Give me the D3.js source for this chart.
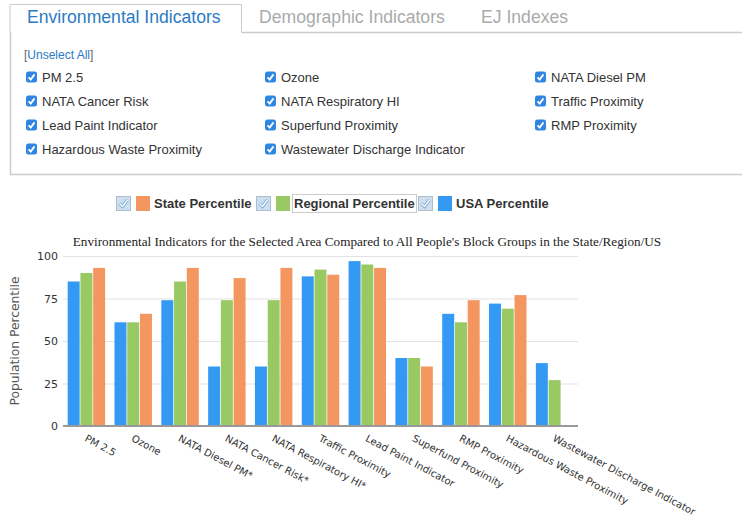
<!DOCTYPE html>
<html>
<head>
<meta charset="utf-8">
<script src="https://cdn.jsdelivr.net/npm/d3@7"></script>
<style>
  body { margin: 0; background: #fff; }
  svg { display: block; }
</style>
</head>
<body>
<svg width="742" height="517"></svg>
<script>
var tabs = ["Environmental Indicators", "Demographic Indicators", "EJ Indexes"];
var checkItems = ["PM 2.5", "Ozone", "NATA Diesel PM",
                  "NATA Cancer Risk", "NATA Respiratory HI", "Traffic Proximity",
                  "Lead Paint Indicator", "Superfund Proximity", "RMP Proximity",
                  "Hazardous Waste Proximity", "Wastewater Discharge Indicator"];
var legendItems = ["State Percentile", "Regional Percentile", "USA Percentile"];

var categories = ["PM 2.5", "Ozone", "NATA Diesel PM*", "NATA Cancer Risk*", "NATA Respiratory HI*",
                  "Traffic Proximity", "Lead Paint Indicator", "Superfund Proximity", "RMP Proximity",
                  "Hazardous Waste Proximity", "Wastewater Discharge Indicator"];
var usaVals = [85, 61, 74, 35, 35, 88, 97, 40, 66, 72, 37];
var regionVals = [90, 61, 85, 74, 74, 92, 95, 40, 61, 69, 27];
var stateVals = [93, 66, 93, 87, 93, 89, 93, 35, 74, 77, null];
var yTicks = [0, 25, 50, 75, 100];

var blue = "#3399f3", green = "#99c963", orange = "#f4965f";

var svg = d3.select("svg"),
    width = +svg.attr("width"),
    height = +svg.attr("height");

// ---- tabs
svg.append("path")
    .attr("d", "M10,32.5 V4.5 H241.5 V32.5")
    .attr("fill", "none")
    .attr("stroke", "#ccc");
var tabX = [27, 259, 481];
svg.selectAll(".tab").data(tabs).enter().append("text")
    .attr("class", "tab")
    .attr("x", function (d, i) { return tabX[i]; })
    .attr("y", 23)
    .attr("font-family", "Liberation Sans, Arial, sans-serif")
    .attr("font-size", 17.6)
    .attr("fill", function (d, i) { return i == 0 ? "#2b7bc4" : "#aaa"; })
    .text(function (d) { return d; });

// panel
svg.append("path")
    .attr("d", "M241.5,32.5 H745 M10.5,32 V174.5 H745")
    .attr("fill", "none")
    .attr("stroke", "#ccc")
    .attr("stroke-width", 1.5);

var unsel = svg.append("text")
    .attr("x", 24).attr("y", 59)
    .attr("font-family", "Liberation Sans, Arial, sans-serif")
    .attr("font-size", 12);
unsel.append("tspan").attr("fill", "#666").text("[");
unsel.append("tspan").attr("fill", "#2b7bc4").text("Unselect All");
unsel.append("tspan").attr("fill", "#666").text("]");

var colX = [26, 265, 535];
var ck = svg.selectAll(".ck").data(checkItems).enter().append("g")
    .attr("class", "ck")
    .attr("transform", function (d, i) {
        return "translate(" + colX[i % 3] + "," + (77 + Math.floor(i / 3) * 24) + ")";
    });
ck.append("rect")
    .attr("x", 0).attr("y", -5.5)
    .attr("width", 11).attr("height", 11)
    .attr("rx", 2.5)
    .attr("fill", "#2f86e0");
ck.append("path")
    .attr("d", "M2.6,0.3 L4.7,2.6 L8.5,-2.6")
    .attr("fill", "none")
    .attr("stroke", "#fff")
    .attr("stroke-width", 1.8);
ck.append("text")
    .attr("x", 16).attr("y", 4.5)
    .attr("font-family", "Liberation Sans, Arial, sans-serif")
    .attr("font-size", 13)
    .attr("fill", "#333")
    .text(function (d) { return d; });

// ---- legend
var legX = [116, 256, 418];
var legColors = [orange, green, blue];
var lg = svg.selectAll(".lg").data(legendItems).enter().append("g")
    .attr("class", "lg")
    .attr("transform", function (d, i) { return "translate(" + legX[i] + ",196)"; });
lg.append("rect")
    .attr("x", 0.5).attr("y", 0.5)
    .attr("width", 14).attr("height", 14)
    .attr("fill", "#cfdeec")
    .attr("stroke", "#a9bfd3");
lg.append("path")
    .attr("d", "M3.5,7.5 L6.5,10.5 L11.5,4")
    .attr("fill", "none")
    .attr("stroke", "#6fa6da")
    .attr("stroke-width", 3);
lg.append("path")
    .attr("d", "M3.5,7.5 L6.5,10.5 L11.5,4")
    .attr("fill", "none")
    .attr("stroke", "#fff")
    .attr("stroke-width", 1.4);
lg.append("rect")
    .attr("x", 20).attr("y", 0)
    .attr("width", 14).attr("height", 15)
    .attr("fill", function (d, i) { return legColors[i]; });
lg.append("text")
    .attr("x", 38).attr("y", 11.5)
    .attr("font-family", "Liberation Sans, Arial, sans-serif")
    .attr("font-size", 13)
    .attr("font-weight", "bold")
    .attr("fill", "#333")
    .text(function (d) { return d; });
lg.filter(function (d, i) { return i == 1; }).append("rect")
    .attr("x", 36.5).attr("y", -1.5)
    .attr("width", 124).attr("height", 18)
    .attr("fill", "none")
    .attr("stroke", "#999")
    .attr("stroke-dasharray", "1,1");

// ---- chart
var margin = { left: 63, right: 164, top: 256, bottom: 91 };

var x0 = d3.scaleBand()
    .domain(categories)
    .range([margin.left, width - margin.right])
    .paddingInner(0.2)
    .paddingOuter(0.1);

var series = ["usa", "region", "state"];
var seriesVals = { usa: usaVals, region: regionVals, state: stateVals };
var seriesColor = { usa: blue, region: green, state: orange };

var x1 = d3.scaleBand()
    .domain(series)
    .range([0, x0.bandwidth()])
    .paddingInner(0.06);

var y = d3.scaleLinear()
    .domain([0, 100])
    .range([height - margin.bottom, margin.top]);

svg.append("text")
    .attr("x", 367).attr("y", 246)
    .attr("text-anchor", "middle")
    .attr("font-family", "Liberation Serif, Times New Roman, serif")
    .attr("font-size", 13.2)
    .attr("fill", "#222")
    .text("Environmental Indicators for the Selected Area Compared to All People's Block Groups in the State/Region/US");

// gridlines
svg.append("g")
    .attr("transform", "translate(" + margin.left + ",0)")
    .call(d3.axisLeft(y).tickValues(yTicks).tickSize(-(width - margin.right - margin.left)).tickFormat(""))
    .call(function (g) { g.select(".domain").remove(); })
    .selectAll("line")
    .attr("stroke", "#e3e3e3");

// y tick labels
svg.append("g")
    .attr("transform", "translate(" + margin.left + ",0)")
    .call(d3.axisLeft(y).tickValues(yTicks).tickSize(0).tickPadding(5))
    .call(function (g) { g.select(".domain").remove(); })
    .selectAll("text")
    .attr("font-family", "DejaVu Sans, Verdana, sans-serif")
    .attr("font-size", 11)
    .attr("fill", "#333");

svg.append("text")
    .attr("transform", "translate(19," + y(50) + ") rotate(-90)")
    .attr("text-anchor", "middle")
    .attr("font-family", "DejaVu Sans, Verdana, sans-serif")
    .attr("font-size", 12.3)
    .attr("fill", "#555")
    .text("Population Percentile");

// bars
var grp = svg.selectAll(".grp").data(categories).enter().append("g")
    .attr("class", "grp")
    .attr("transform", function (d) { return "translate(" + x0(d) + ",0)"; });

grp.selectAll("rect")
    .data(function (d, i) {
        return series.map(function (s) { return { key: s, value: seriesVals[s][i] }; })
            .filter(function (e) { return e.value != null; });
    })
    .enter().append("rect")
    .attr("x", function (d) { return x1(d.key); })
    .attr("y", function (d) { return y(d.value); })
    .attr("width", x1.bandwidth())
    .attr("height", function (d) { return y(0) - y(d.value); })
    .attr("fill", function (d) { return seriesColor[d.key]; });

// x axis
var xAxis = svg.append("g")
    .attr("transform", "translate(0," + y(0) + ")")
    .call(d3.axisBottom(x0).tickSize(0).tickPadding(0));
xAxis.select(".domain")
    .attr("stroke", "#999")
    .attr("stroke-width", 2)
    .attr("d", "M" + margin.left + ",0H" + (width - margin.right));
xAxis.selectAll("text")
    .attr("font-family", "DejaVu Sans, Verdana, sans-serif")
    .attr("font-size", 10)
    .attr("fill", "#333")
    .attr("text-anchor", "start")
    .attr("y", 0)
    .attr("transform", "translate(1,8) rotate(28)")
    .attr("dy", "0.75em");
</script>
</body>
</html>
